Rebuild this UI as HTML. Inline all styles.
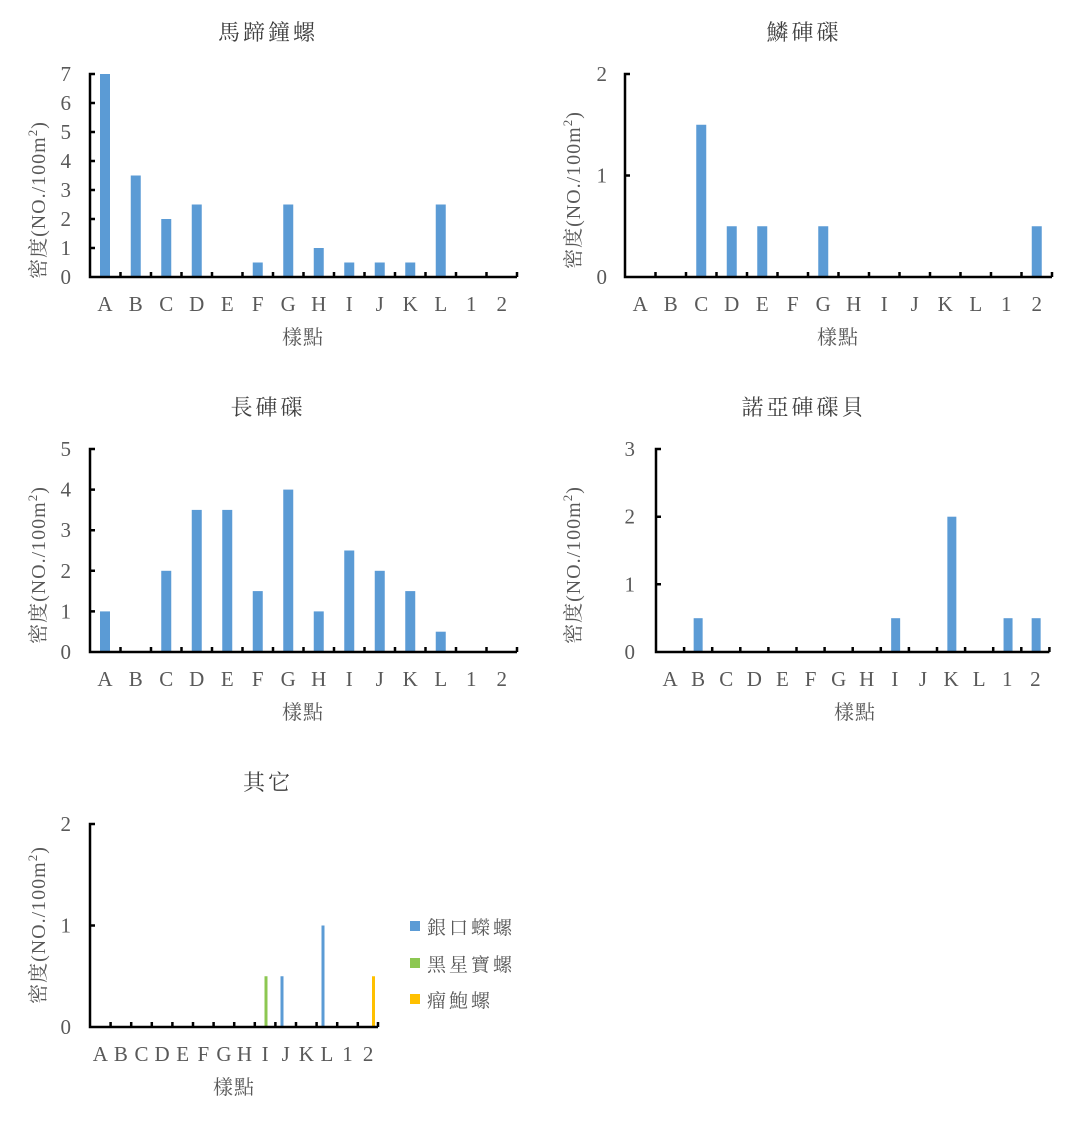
<!DOCTYPE html>
<html><head><meta charset="utf-8"><style>
body{margin:0;background:#fff}
svg{display:block}
text{font-family:"Liberation Serif","Noto Serif CJK SC","Noto Sans CJK TC",serif;fill:#595959}
.t{font-size:22px;fill:#404040;text-anchor:middle;letter-spacing:3px;font-family:"Liberation Serif","Noto Serif CJK SC",serif}
.k{font-size:21px;text-anchor:middle}
.y{font-size:21px;text-anchor:end}
.l{font-size:20px;text-anchor:middle;letter-spacing:1px;font-family:"Liberation Serif","Noto Serif CJK SC",serif}
.ax{stroke:#000;stroke-width:2.5;fill:none}
.b{fill:#5b9bd5}
</style></head><body>
<svg width="1072" height="1125" xmlns="http://www.w3.org/2000/svg">
<!-- Chart 1 -->
<text class="t" x="268" y="40">馬蹄鐘螺</text>
<g class="b">
<rect x="100" y="74" width="10" height="203"/><rect x="130.75" y="175.5" width="10" height="101.5"/><rect x="161.25" y="219" width="10" height="58"/><rect x="191.75" y="204.5" width="10" height="72.5"/><rect x="252.75" y="262.5" width="10" height="14.5"/><rect x="283.25" y="204.5" width="10" height="72.5"/><rect x="313.75" y="248" width="10" height="29"/><rect x="344.25" y="262.5" width="10" height="14.5"/><rect x="374.75" y="262.5" width="10" height="14.5"/><rect x="405.25" y="262.5" width="10" height="14.5"/><rect x="435.75" y="204.5" width="10" height="72.5"/>
</g>
<path class="ax" d="M95 74H90V277H517M120.5 277v-5M151 277v-5M181.5 277v-5M212 277v-5M242.5 277v-5M273 277v-5M303.5 277v-5M334 277v-5M364.5 277v-5M395 277v-5M425.5 277v-5M456 277v-5M486.5 277v-5M517 277v-5M90 248h5M90 219h5M90 190h5M90 161h5M90 132h5M90 103h5"/>
<g class="y"><text x="71" y="284">0</text><text x="71" y="255">1</text><text x="71" y="226">2</text><text x="71" y="197">3</text><text x="71" y="168">4</text><text x="71" y="139">5</text><text x="71" y="110">6</text><text x="71" y="81">7</text></g>
<g class="k"><text x="105" y="311">A</text><text x="135.75" y="311">B</text><text x="166.25" y="311">C</text><text x="196.75" y="311">D</text><text x="227.25" y="311">E</text><text x="257.75" y="311">F</text><text x="288.25" y="311">G</text><text x="318.75" y="311">H</text><text x="349.25" y="311">I</text><text x="379.75" y="311">J</text><text x="410.25" y="311">K</text><text x="440.75" y="311">L</text><text x="471.25" y="311">1</text><text x="501.75" y="311">2</text></g>
<text class="l" x="303" y="344">樣點</text>
<text class="l" transform="translate(45,200) rotate(-90)">密度(NO./100m<tspan dy="-8" font-size="13">2</tspan><tspan dy="8">)</tspan></text>

<!-- Chart 2 -->
<text class="t" x="804" y="40">鱗硨磲</text>
<g class="b">
<rect x="696.25" y="124.75" width="10" height="152.25"/><rect x="726.75" y="226.25" width="10" height="50.75"/><rect x="757.25" y="226.25" width="10" height="50.75"/><rect x="818.25" y="226.25" width="10" height="50.75"/><rect x="1031.75" y="226.25" width="10" height="50.75"/>
</g>
<path class="ax" d="M630 74H625V277H1052M655.5 277v-5M686 277v-5M716.5 277v-5M747 277v-5M777.5 277v-5M808 277v-5M838.5 277v-5M869 277v-5M899.5 277v-5M930 277v-5M960.5 277v-5M991 277v-5M1021.5 277v-5M1052 277v-5M625 175.5h5"/>
<g class="y"><text x="607" y="284">0</text><text x="607" y="182.5">1</text><text x="607" y="81">2</text></g>
<g class="k"><text x="640.25" y="311">A</text><text x="670.75" y="311">B</text><text x="701.25" y="311">C</text><text x="731.75" y="311">D</text><text x="762.25" y="311">E</text><text x="792.75" y="311">F</text><text x="823.25" y="311">G</text><text x="853.75" y="311">H</text><text x="884.25" y="311">I</text><text x="914.75" y="311">J</text><text x="945.25" y="311">K</text><text x="975.75" y="311">L</text><text x="1006.25" y="311">1</text><text x="1036.75" y="311">2</text></g>
<text class="l" x="838" y="344">樣點</text>
<text class="l" transform="translate(580,190) rotate(-90)">密度(NO./100m<tspan dy="-8" font-size="13">2</tspan><tspan dy="8">)</tspan></text>

<!-- Chart 3 -->
<text class="t" x="268" y="415">長硨磲</text>
<g class="b">
<rect x="100" y="611.4" width="10" height="40.6"/><rect x="161.25" y="570.8" width="10" height="81.2"/><rect x="191.75" y="509.9" width="10" height="142.1"/><rect x="222.25" y="509.9" width="10" height="142.1"/><rect x="252.75" y="591.1" width="10" height="60.9"/><rect x="283.25" y="489.6" width="10" height="162.4"/><rect x="313.75" y="611.4" width="10" height="40.6"/><rect x="344.25" y="550.5" width="10" height="101.5"/><rect x="374.75" y="570.8" width="10" height="81.2"/><rect x="405.25" y="591.1" width="10" height="60.9"/><rect x="435.75" y="631.7" width="10" height="20.3"/>
</g>
<path class="ax" d="M95 449H90V652H517M120.5 652v-5M151 652v-5M181.5 652v-5M212 652v-5M242.5 652v-5M273 652v-5M303.5 652v-5M334 652v-5M364.5 652v-5M395 652v-5M425.5 652v-5M456 652v-5M486.5 652v-5M517 652v-5M90 611.4h5M90 570.8h5M90 530.2h5M90 489.6h5"/>
<g class="y"><text x="71" y="659">0</text><text x="71" y="618.4">1</text><text x="71" y="577.8">2</text><text x="71" y="537.2">3</text><text x="71" y="496.6">4</text><text x="71" y="456">5</text></g>
<g class="k"><text x="105" y="686">A</text><text x="135.75" y="686">B</text><text x="166.25" y="686">C</text><text x="196.75" y="686">D</text><text x="227.25" y="686">E</text><text x="257.75" y="686">F</text><text x="288.25" y="686">G</text><text x="318.75" y="686">H</text><text x="349.25" y="686">I</text><text x="379.75" y="686">J</text><text x="410.25" y="686">K</text><text x="440.75" y="686">L</text><text x="471.25" y="686">1</text><text x="501.75" y="686">2</text></g>
<text class="l" x="303" y="719">樣點</text>
<text class="l" transform="translate(45,565) rotate(-90)">密度(NO./100m<tspan dy="-8" font-size="13">2</tspan><tspan dy="8">)</tspan></text>

<!-- Chart 4 -->
<text class="t" x="804" y="415">諾亞硨磲貝</text>
<g class="b">
<rect x="693.65" y="618.2" width="9" height="33.8"/><rect x="891.15" y="618.2" width="9" height="33.8"/><rect x="947.35" y="516.7" width="9" height="135.3"/><rect x="1003.55" y="618.2" width="9" height="33.8"/><rect x="1031.65" y="618.2" width="9" height="33.8"/>
</g>
<path class="ax" d="M661 449H656V652H1049.4M684.1 652v-5M712.2 652v-5M740.3 652v-5M768.4 652v-5M796.5 652v-5M824.6 652v-5M852.7 652v-5M880.8 652v-5M908.9 652v-5M937 652v-5M965.1 652v-5M993.2 652v-5M1021.3 652v-5M1049.4 652v-5M656 584.3h5M656 516.7h5"/>
<g class="y"><text x="635" y="659">0</text><text x="635" y="591.3">1</text><text x="635" y="523.7">2</text><text x="635" y="456">3</text></g>
<g class="k"><text x="670.05" y="686">A</text><text x="698.15" y="686">B</text><text x="726.25" y="686">C</text><text x="754.35" y="686">D</text><text x="782.45" y="686">E</text><text x="810.55" y="686">F</text><text x="838.65" y="686">G</text><text x="866.75" y="686">H</text><text x="894.85" y="686">I</text><text x="922.95" y="686">J</text><text x="951.05" y="686">K</text><text x="979.15" y="686">L</text><text x="1007.25" y="686">1</text><text x="1035.35" y="686">2</text></g>
<text class="l" x="855" y="719">樣點</text>
<text class="l" transform="translate(580,565) rotate(-90)">密度(NO./100m<tspan dy="-8" font-size="13">2</tspan><tspan dy="8">)</tspan></text>

<!-- Chart 5 -->
<text class="t" x="268" y="790">其它</text>
<rect x="264.5" y="976.25" width="3" height="50.75" fill="#8cc751"/>
<rect x="280.5" y="976.25" width="3" height="50.75" fill="#5b9bd5"/>
<rect x="321.5" y="925.5" width="3" height="101.5" fill="#5b9bd5"/>
<rect x="372" y="976.25" width="3" height="50.75" fill="#ffc000"/>
<path class="ax" d="M95 824H90V1027H378M110.6 1027v-5M131.2 1027v-5M151.8 1027v-5M172.4 1027v-5M193 1027v-5M213.6 1027v-5M234.2 1027v-5M254.8 1027v-5M275.4 1027v-5M296 1027v-5M316.6 1027v-5M337.2 1027v-5M357.8 1027v-5M378 1027v-5M90 925.5h5"/>
<g class="y"><text x="71" y="1034">0</text><text x="71" y="932.5">1</text><text x="71" y="831">2</text></g>
<g class="k"><text x="100.3" y="1061">A</text><text x="120.9" y="1061">B</text><text x="141.5" y="1061">C</text><text x="162.1" y="1061">D</text><text x="182.7" y="1061">E</text><text x="203.3" y="1061">F</text><text x="223.9" y="1061">G</text><text x="244.5" y="1061">H</text><text x="265.1" y="1061">I</text><text x="285.7" y="1061">J</text><text x="306.3" y="1061">K</text><text x="326.9" y="1061">L</text><text x="347.5" y="1061">1</text><text x="368.1" y="1061">2</text></g>
<text class="l" x="234" y="1094">樣點</text>
<text class="l" transform="translate(45,925) rotate(-90)">密度(NO./100m<tspan dy="-8" font-size="13">2</tspan><tspan dy="8">)</tspan></text>
<rect x="410" y="921" width="10" height="10" fill="#5b9bd5"/>
<rect x="410" y="958" width="10" height="10" fill="#8cc751"/>
<rect x="410" y="994" width="10" height="10" fill="#ffc000"/>
<g font-size="19" letter-spacing="3" style="font-family:'Liberation Serif','Noto Serif CJK SC',serif"><text x="427" y="934">銀口蠑螺</text><text x="427" y="971">黑星寶螺</text><text x="427" y="1007">瘤鮑螺</text></g>
</svg>
</body></html>
